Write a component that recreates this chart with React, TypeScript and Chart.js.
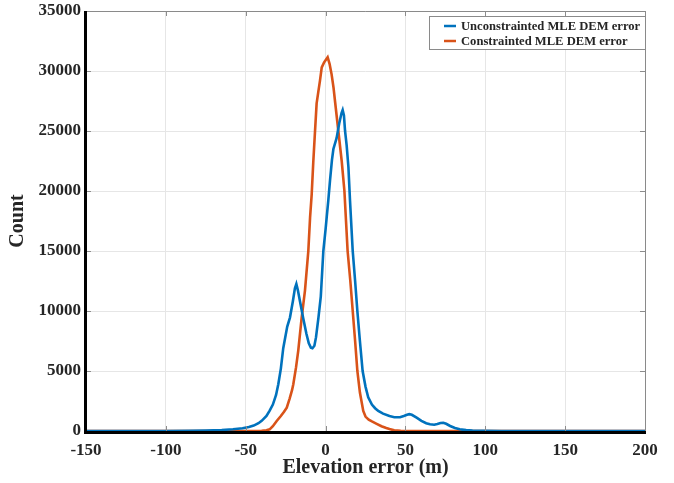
import React, { useEffect, useRef } from "react";
import { Chart, registerables } from "chart.js";

Chart.register(...registerables);

const seriesLabels = ["Unconstrainted MLE DEM error", "Constrainted MLE DEM error"];
const seriesColors = ["#0072BD", "#D95319"];

const xTicks = [-150, -100, -50, 0, 50, 100, 150, 200];
const yTicks = [0, 5000, 10000, 15000, 20000, 25000, 30000, 35000];

const unconX = [-150, -120, -100, -85, -75, -65, -58, -52, -48, -45, -42, -40, -37, -35, -33, -31, -29.6, -28, -26.5, -24, -22.3, -20.5, -19.2, -18.3, -17.3, -16, -14, -12, -10.5, -9.2, -8.2, -7, -6, -4.5, -3, -1.4, 0, 0.7, 1.7, 2.8, 4, 4.9, 6.9, 8.5, 10, 10.7, 11.5, 12.2, 13.2, 14.3, 15.3, 17, 18.5, 19.9, 21.5, 23.2, 25, 26.7, 29, 31, 33, 36, 40, 43, 46.6, 49, 51, 52.4, 54, 57, 60, 63, 65.4, 68, 70, 72, 73.7, 75.5, 78, 81, 84, 88, 92, 96, 100, 110, 130, 200];
const unconCount = [0, 0, 5, 15, 40, 80, 150, 230, 330, 450, 650, 850, 1250, 1700, 2200, 3000, 3900, 5200, 6900, 8700, 9450, 10800, 11900, 12250, 11700, 10800, 9400, 8100, 7300, 6950, 6900, 7100, 7800, 9400, 11200, 15000, 16800, 17800, 19200, 20900, 22600, 23500, 24400, 25600, 26500, 26750, 26300, 25000, 23800, 22000, 19200, 15000, 12500, 10000, 7500, 5000, 3700, 2800, 2200, 1900, 1670, 1450, 1250, 1150, 1150, 1250, 1350, 1400, 1350, 1110, 850, 650, 560, 520, 580, 660, 690, 600, 420, 250, 140, 70, 35, 20, 10, 3, 0, 0];

const conX = [-150, -60, -45, -40, -37, -35, -33, -30.6, -28, -26, -24.3, -22.5, -21, -20.2, -18.5, -17.1, -15, -12.9, -10.8, -9.7, -8.7, -7.7, -6.6, -5.6, -4.5, -3.5, -2.4, -1, 0, 1.3, 2.5, 3.8, 5, 5.9, 8, 10.1, 11.8, 12.8, 13.8, 15.5, 17, 18.5, 19.9, 21.5, 23.6, 25, 27, 29, 32, 35, 38, 40, 43, 47, 50, 200];
const conCount = [0, 0, 5, 15, 60, 140, 400, 830, 1250, 1600, 1950, 2700, 3400, 3900, 5300, 6700, 9400, 11700, 15000, 17800, 19700, 22400, 25000, 27300, 28300, 29200, 30300, 30700, 30900, 31150, 30600, 29700, 28600, 27500, 25000, 22500, 20000, 17500, 15000, 12500, 10000, 7500, 5000, 3200, 1670, 1200, 950, 800, 600, 400, 250, 160, 60, 15, 0, 0];

const FONT = "'Liberation Serif', 'Times New Roman', serif";

const framePlugin = {
  id: "frame",
  afterDraw(chart: any) {
    const { ctx, chartArea } = chart;
    const { left, right, top, bottom } = chartArea;
    const xs = chart.scales.x;
    const ys = chart.scales.y;
    ctx.save();
    // inward ticks
    ctx.strokeStyle = "#8c8c8c";
    ctx.lineWidth = 1;
    const tl = 5;
    ctx.beginPath();
    xTicks.forEach((v) => {
      const px = Math.round(xs.getPixelForValue(v)) + 0.5;
      ctx.moveTo(px, bottom);
      ctx.lineTo(px, bottom - tl);
      ctx.moveTo(px, top);
      ctx.lineTo(px, top + tl);
    });
    yTicks.forEach((v) => {
      const py = Math.round(ys.getPixelForValue(v)) + 0.5;
      ctx.moveTo(left, py);
      ctx.lineTo(left + tl, py);
      ctx.moveTo(right, py);
      ctx.lineTo(right - tl, py);
    });
    ctx.stroke();
    // top & right border
    ctx.strokeStyle = "#8a8a8a";
    ctx.lineWidth = 1;
    ctx.beginPath();
    ctx.moveTo(left, top + 0.5);
    ctx.lineTo(right + 0.5, top + 0.5);
    ctx.lineTo(right + 0.5, bottom);
    ctx.stroke();
    // left & bottom axes
    ctx.strokeStyle = "#000";
    ctx.lineWidth = 3;
    ctx.beginPath();
    ctx.moveTo(left - 0.5, top);
    ctx.lineTo(left - 0.5, bottom + 1.5);
    ctx.lineTo(right + 1, bottom + 1.5);
    ctx.stroke();

    // legend
    const bx = 429.5, by = 16.5, bw = 216, bh = 33;
    ctx.fillStyle = "#fff";
    ctx.fillRect(bx, by, bw, bh);
    ctx.strokeStyle = "#8a8a8a";
    ctx.lineWidth = 1;
    ctx.strokeRect(bx, by, bw, bh);
    ctx.font = `bold 12.6px ${FONT}`;
    ctx.textBaseline = "middle";
    ctx.textAlign = "left";
    const rows = [26, 41];
    seriesLabels.forEach((lab, i) => {
      ctx.strokeStyle = seriesColors[i];
      ctx.lineWidth = 2.5;
      ctx.beginPath();
      ctx.moveTo(444, rows[i]);
      ctx.lineTo(456, rows[i]);
      ctx.stroke();
      ctx.fillStyle = "#262626";
      ctx.fillText(lab, 461, rows[i] + 1);
    });
    ctx.restore();
  },
};

export default function App() {
  const ref = useRef<HTMLCanvasElement | null>(null);
  useEffect(() => {
    document.body.style.margin = "0";
    const canvas = ref.current;
    if (!canvas) return;
    const mk = (xs: number[], ys: number[]) => xs.map((x, i) => ({ x, y: ys[i] }));
    const chart = new Chart(canvas, {
      type: "line",
      data: {
        datasets: [
          {
            label: seriesLabels[0],
            data: mk(unconX, unconCount),
            borderColor: seriesColors[0],
            borderWidth: 2.6,
            pointRadius: 0,
            tension: 0,
          },
          {
            label: seriesLabels[1],
            data: mk(conX, conCount),
            borderColor: seriesColors[1],
            borderWidth: 2.6,
            pointRadius: 0,
            tension: 0,
          },
        ],
      },
      options: {
        responsive: false,
        animation: false,
        layout: { padding: { top: 11, right: 29, left: 0, bottom: 0 } },
        plugins: { legend: { display: false }, tooltip: { enabled: false } },
        scales: {
          x: {
            type: "linear",
            min: -150,
            max: 200,
            afterBuildTicks: (s: any) => {
              s.ticks = xTicks.map((v) => ({ value: v }));
            },
            afterFit: (s: any) => {
              s.height = 52;
              s.paddingLeft = 0;
              s.paddingRight = 0;
            },
            grid: { color: "#e6e6e6", lineWidth: 1, drawTicks: false },
            border: { display: false },
            ticks: {
              color: "#262626",
              font: { family: FONT, size: 17, weight: "bold" },
              padding: 9,
              maxRotation: 0,
            },
            title: {
              display: true,
              text: "Elevation error (m)",
              color: "#262626",
              font: { family: FONT, size: 20, weight: "bold" },
              padding: { top: 0, bottom: 3 },
            },
          },
          y: {
            type: "linear",
            min: 0,
            max: 35000,
            afterBuildTicks: (s: any) => {
              s.ticks = yTicks.map((v) => ({ value: v }));
            },
            afterFit: (s: any) => {
              s.width = 86;
              s.paddingTop = 0;
              s.paddingBottom = 0;
            },
            grid: { color: "#e6e6e6", lineWidth: 1, drawTicks: false },
            border: { display: false },
            ticks: {
              color: "#262626",
              font: { family: FONT, size: 17, weight: "bold" },
              padding: 5,
              callback: (v: any) => String(v),
            },
            title: {
              display: true,
              text: "Count",
              color: "#262626",
              font: { family: FONT, size: 20, weight: "bold" },
              padding: { top: 6, bottom: 0 },
            },
          },
        },
      },
      plugins: [framePlugin],
    } as any);
    return () => chart.destroy();
  }, []);
  return (
    <div style={{ position: "fixed", left: 0, top: 0, width: 674, height: 483 }}>
      <canvas ref={ref} width={674} height={483} style={{ display: "block" }} />
    </div>
  );
}
